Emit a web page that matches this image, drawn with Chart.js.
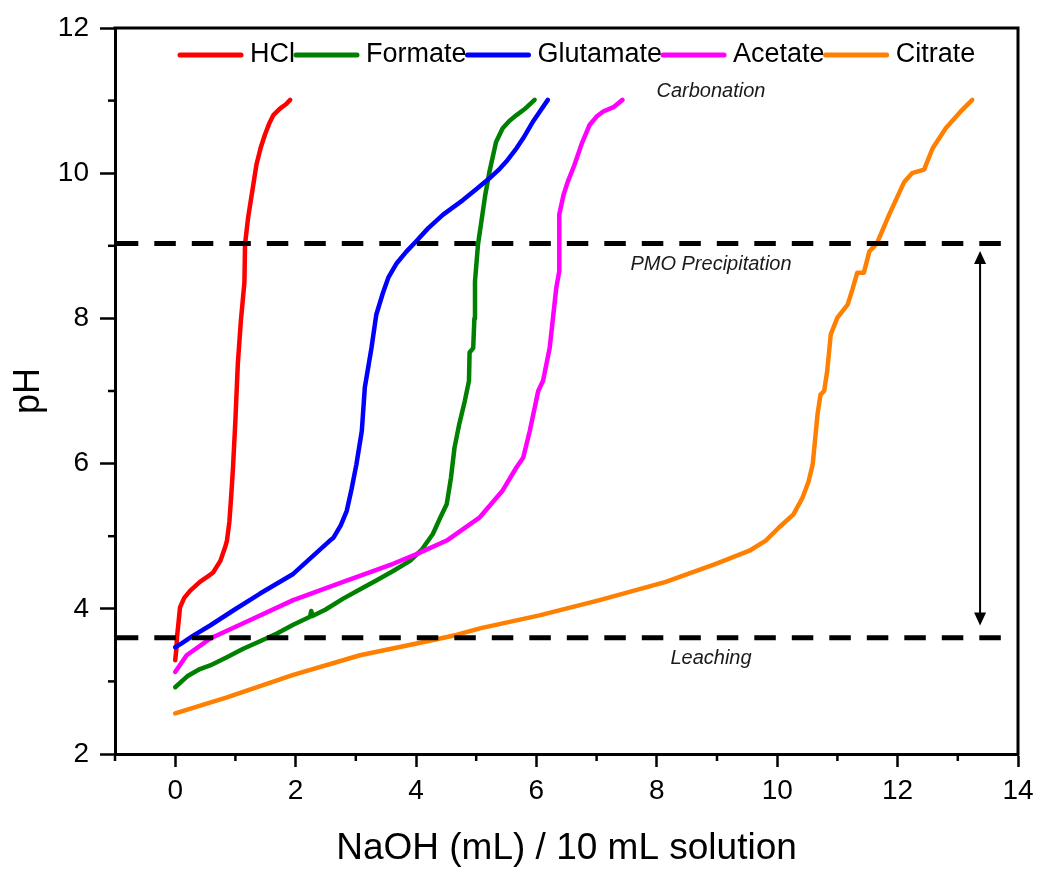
<!DOCTYPE html>
<html>
<head>
<meta charset="utf-8">
<title>Titration curves</title>
<script src="https://cdn.jsdelivr.net/npm/chart.js@4.4.1/dist/chart.umd.min.js"></script>
<style>
  body { margin: 0; background: #fff; }
  #wrap { width: 1039px; height: 869px; }
</style>
</head>
<body>
<div id="wrap"><canvas id="chart" width="1039" height="869"></canvas></div>
<script>
// NaOH added (mL) and measured pH for each leaching agent
const hclX = [0, 0.02, 0.03, 0.06, 0.08, 0.15, 0.25, 0.41, 0.55, 0.63, 0.75, 0.83, 0.86, 0.9, 0.93, 0.96, 1.0, 1.04, 1.09, 1.15, 1.16, 1.21, 1.28, 1.35, 1.42, 1.49, 1.56, 1.63, 1.74, 1.84, 1.91];
const hclY = [3.29, 3.45, 3.61, 3.85, 4.02, 4.15, 4.25, 4.37, 4.45, 4.5, 4.66, 4.85, 4.94, 5.2, 5.55, 5.94, 6.6, 7.37, 7.96, 8.5, 9.02, 9.38, 9.75, 10.12, 10.35, 10.53, 10.68, 10.8, 10.89, 10.95, 11.01];

const formateX = [0, 0.2, 0.41, 0.58, 0.85, 1.13, 1.4, 1.69, 1.96, 2.24, 2.26, 2.28, 2.5, 2.79, 3.05, 3.34, 3.62, 3.9, 4.1, 4.28, 4.4, 4.51, 4.58, 4.64, 4.72, 4.81, 4.88, 4.89, 4.95, 4.97, 4.98, 5.03, 5.08, 5.15, 5.22, 5.33, 5.44, 5.55, 5.67, 5.8, 5.97];
const formateY = [2.92, 3.07, 3.17, 3.22, 3.33, 3.45, 3.55, 3.66, 3.78, 3.89, 3.97, 3.9, 3.99, 4.14, 4.26, 4.39, 4.52, 4.66, 4.82, 5.03, 5.25, 5.44, 5.8, 6.22, 6.55, 6.86, 7.14, 7.53, 7.59, 8.0, 8.51, 9.02, 9.3, 9.7, 10.02, 10.43, 10.62, 10.72, 10.8, 10.88, 11.01];

const glutamateX = [0, 0.1, 0.3, 0.58, 0.97, 1.41, 1.96, 2.29, 2.57, 2.63, 2.75, 2.85, 2.93, 3.01, 3.1, 3.15, 3.26, 3.34, 3.45, 3.54, 3.68, 3.84, 4.0, 4.2, 4.45, 4.78, 5.0, 5.22, 5.39, 5.5, 5.65, 5.78, 5.95, 6.19];
const glutamateY = [3.47, 3.52, 3.63, 3.77, 3.98, 4.21, 4.48, 4.73, 4.94, 4.98, 5.15, 5.35, 5.65, 5.99, 6.45, 7.05, 7.59, 8.05, 8.35, 8.56, 8.76, 8.92, 9.06, 9.24, 9.43, 9.63, 9.78, 9.93, 10.06, 10.16, 10.32, 10.48, 10.72, 11.01];

const acetateX = [0, 0.19, 0.58, 1.13, 1.96, 2.79, 3.62, 4.0, 4.51, 5.06, 5.44, 5.67, 5.78, 5.89, 6.03, 6.11, 6.22, 6.33, 6.38, 6.38, 6.45, 6.52, 6.63, 6.75, 6.88, 7.0, 7.11, 7.28, 7.43];
const acetateY = [3.13, 3.36, 3.59, 3.8, 4.12, 4.37, 4.62, 4.75, 4.94, 5.26, 5.63, 5.95, 6.08, 6.45, 7.0, 7.14, 7.59, 8.42, 8.65, 9.43, 9.7, 9.88, 10.11, 10.4, 10.66, 10.78, 10.85, 10.91, 11.01];

const citrateX = [0, 0.86, 1.96, 3.07, 4.17, 4.67, 5.06, 6.05, 7.05, 8.15, 8.98, 9.54, 9.81, 10.03, 10.27, 10.42, 10.52, 10.59, 10.67, 10.72, 10.78, 10.83, 10.89, 11.0, 11.17, 11.25, 11.33, 11.44, 11.53, 11.66, 11.86, 12.11, 12.24, 12.44, 12.58, 12.8, 13.07, 13.24];
const citrateY = [2.56, 2.78, 3.09, 3.36, 3.55, 3.64, 3.73, 3.91, 4.12, 4.37, 4.62, 4.8, 4.94, 5.12, 5.3, 5.53, 5.75, 5.99, 6.68, 6.95, 7.0, 7.27, 7.78, 8.01, 8.19, 8.4, 8.63, 8.63, 8.92, 9.04, 9.43, 9.88, 10.0, 10.05, 10.34, 10.62, 10.87, 11.01];

// pH limits of the process windows (dashed lines)
const limitX = [-0.97, 13.82];
const precipitationPH = 9.03;
const leachingPH = 3.6;

// axis ranges
const xMin = -1, xMax = 14;
const yMin = 2, yMax = 12;

function pairs(xs, ys) {
  return xs.map((x, i) => ({ x: x, y: ys[i] }));
}

function curve(label, xs, ys, color, order) {
  return {
    label: label,
    data: pairs(xs, ys),
    borderColor: color,
    backgroundColor: color,
    borderWidth: 4.5,
    pointRadius: 0,
    tension: 0,
    borderJoinStyle: 'round',
    borderCapStyle: 'round',
    order: order,
    inLegend: true
  };
}

function limitLine(ph) {
  return {
    label: '',
    data: limitX.map(x => ({ x: x, y: ph })),
    borderColor: '#000',
    borderWidth: 5,
    borderDash: [21.5, 16],
    pointRadius: 0,
    order: 0,
    inLegend: false
  };
}

const FONT = 'Arial, "Liberation Sans", sans-serif';
Chart.defaults.font.family = FONT;
Chart.defaults.color = '#000';

const isMajor = c => c.tick && c.tick.value % 2 === 0;

// legend drawn inside the frame, one row
const insideLegend = {
  id: 'insideLegend',
  afterDraw(chart) {
    const { ctx, chartArea } = chart;
    let x = chartArea.left + 63;
    const y = chartArea.top + 27;
    ctx.save();
    ctx.font = '27px ' + FONT;
    ctx.textBaseline = 'middle';
    ctx.lineCap = 'round';
    chart.data.datasets.forEach(ds => {
      if (!ds.inLegend) return;
      ctx.strokeStyle = ds.borderColor;
      ctx.lineWidth = 5;
      ctx.beginPath();
      ctx.moveTo(x + 2, y);
      ctx.lineTo(x + 63, y);
      ctx.stroke();
      ctx.fillStyle = '#000';
      ctx.fillText(ds.label, x + 72, y);
      x += 72 + ctx.measureText(ds.label).width - 1;
    });
    ctx.restore();
  }
};

// frame on top/right, minor ticks, arrow and region labels
const decorations = {
  id: 'decorations',
  afterDraw(chart) {
    const { ctx, chartArea } = chart;
    const xs = chart.scales.x, ys = chart.scales.y;
    ctx.save();

    ctx.strokeStyle = '#000';
    ctx.lineWidth = 3;
    ctx.beginPath();
    ctx.moveTo(chartArea.left - 1.5, chartArea.top);
    ctx.lineTo(chartArea.right, chartArea.top);
    ctx.lineTo(chartArea.right, chartArea.bottom + 1.5);
    ctx.stroke();

    // minor ticks at odd values
    ctx.lineWidth = 2.5;
    for (let v = yMin + 1; v < yMax; v += 2) {
      const py = ys.getPixelForValue(v);
      ctx.beginPath();
      ctx.moveTo(chartArea.left - 7, py);
      ctx.lineTo(chartArea.left, py);
      ctx.stroke();
    }
    for (let v = xMin; v < xMax; v += 2) {
      const px = xs.getPixelForValue(v);
      ctx.beginPath();
      ctx.moveTo(px, chartArea.bottom);
      ctx.lineTo(px, chartArea.bottom + 7);
      ctx.stroke();
    }

    // double headed arrow between the two limits
    const ax = xs.getPixelForValue(13.37);
    const top = ys.getPixelForValue(8.93);
    const bot = ys.getPixelForValue(3.77);
    ctx.lineWidth = 2;
    ctx.beginPath();
    ctx.moveTo(ax, top + 10);
    ctx.lineTo(ax, bot - 10);
    ctx.stroke();
    ctx.fillStyle = '#000';
    ctx.beginPath();
    ctx.moveTo(ax, top);
    ctx.lineTo(ax - 6, top + 13);
    ctx.lineTo(ax + 6, top + 13);
    ctx.closePath();
    ctx.fill();
    ctx.beginPath();
    ctx.moveTo(ax, bot);
    ctx.lineTo(ax - 6, bot - 13);
    ctx.lineTo(ax + 6, bot - 13);
    ctx.closePath();
    ctx.fill();

    ctx.font = 'italic 20px ' + FONT;
    ctx.textAlign = 'center';
    ctx.textBaseline = 'middle';
    ctx.fillStyle = '#1a1a1a';
    ctx.fillText('Carbonation', xs.getPixelForValue(8.9), ys.getPixelForValue(11.12));
    ctx.fillText('PMO Precipitation', xs.getPixelForValue(8.9), ys.getPixelForValue(8.74));
    ctx.fillText('Leaching', xs.getPixelForValue(8.9), ys.getPixelForValue(3.32));
    ctx.restore();
  }
};

new Chart(document.getElementById('chart'), {
  type: 'line',
  data: {
    datasets: [
      curve('HCl', hclX, hclY, '#ff0000', 5),
      curve('Formate', formateX, formateY, '#008000', 4),
      curve('Glutamate', glutamateX, glutamateY, '#0000ff', 3),
      curve('Acetate', acetateX, acetateY, '#ff00ff', 2),
      curve('Citrate', citrateX, citrateY, '#ff8000', 1),
      limitLine(precipitationPH),
      limitLine(leachingPH)
    ]
  },
  options: {
    responsive: false,
    animation: false,
    layout: { padding: { top: 28, right: 21, left: 0, bottom: 0 } },
    plugins: {
      legend: { display: false },
      tooltip: { enabled: false }
    },
    scales: {
      x: {
        type: 'linear',
        min: xMin,
        max: xMax,
        afterFit: s => { s.height = 115; s.paddingLeft = 0; s.paddingRight = 0; },
        ticks: {
          stepSize: 1,
          autoSkip: false,
          maxRotation: 0,
          padding: 7,
          font: { size: 28 },
          callback: v => (v % 2 === 0 ? v : '')
        },
        grid: {
          drawOnChartArea: false,
          drawTicks: true,
          tickLength: 13,
          tickWidth: 2.5,
          tickColor: c => (isMajor(c) ? '#000' : 'rgba(0,0,0,0)')
        },
        border: { display: true, color: '#000', width: 3 },
        title: {
          display: true,
          text: 'NaOH (mL) / 10 mL solution',
          font: { size: 37, lineHeight: 1 },
          padding: { top: 0, bottom: 2 }
        }
      },
      y: {
        type: 'linear',
        min: yMin,
        max: yMax,
        afterFit: s => { s.width = 115; s.paddingTop = 0; s.paddingBottom = 0; },
        ticks: {
          stepSize: 1,
          autoSkip: false,
          padding: 11,
          font: { size: 28 },
          callback: v => (v % 2 === 0 ? v : '')
        },
        grid: {
          drawOnChartArea: false,
          drawTicks: true,
          tickLength: 15,
          tickWidth: 2.5,
          tickColor: c => (isMajor(c) ? '#000' : 'rgba(0,0,0,0)')
        },
        border: { display: true, color: '#000', width: 3 },
        title: {
          display: true,
          text: 'pH',
          font: { size: 36, lineHeight: 1 },
          padding: { top: 11, bottom: 0 }
        }
      }
    }
  },
  plugins: [insideLegend, decorations]
});
</script>
</body>
</html>
